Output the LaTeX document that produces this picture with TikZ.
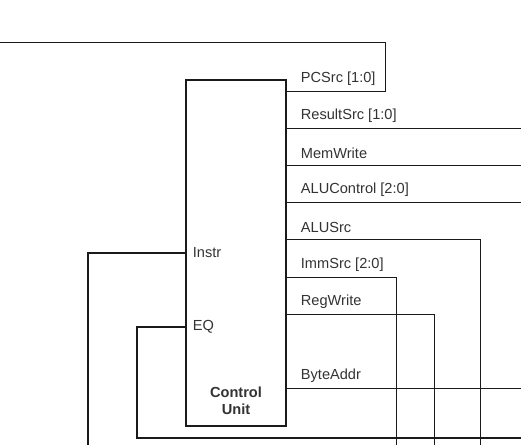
\documentclass[tikz,border=0pt]{standalone}
\usepackage{fontspec}
\setmainfont{Liberation Sans}
\definecolor{txt}{HTML}{333333}
\definecolor{ln}{HTML}{1A1A1A}
\begin{document}
\begin{tikzpicture}[x=1pt,y=-1pt,
  thinline/.style={draw=ln,line width=1pt},
  thickline/.style={draw=ln,line width=2pt},
  sig/.style={anchor=west,inner sep=0pt,text=txt,font=\fontsize{14.6}{17}\selectfont},
  unitbox/.style={draw=ln,line width=2pt,minimum width=100pt,minimum height=345.7pt,inner sep=0pt,fill=white}]
\useasboundingbox (0,0) rectangle (521,445);
\node[unitbox] (cu) at (236,252.85) {};
\node[inner sep=0pt,align=center,text=txt,font=\fontsize{14.6}{17.3}\selectfont\bfseries] (cut) at (236,400.5) {Control\\Unit};
% level coordinates
\coordinate (yPC) at (0,91.7);
\coordinate (yRS) at (0,128.7);
\coordinate (yMW) at (0,165.3);
\coordinate (yAC) at (0,202.7);
\coordinate (yAS) at (0,239.7);
\coordinate (yIS) at (0,277);
\coordinate (yRW) at (0,314);
\coordinate (yBA) at (0,388.7);
\coordinate (yIN) at (0,252.7);
\coordinate (yEQ) at (0,327);
% free ends
\coordinate (pcTop) at (385,42);
\coordinate (pcEnd) at (0,42);
\coordinate (rsEnd) at (521,128.7);
\coordinate (mwEnd) at (521,165.3);
\coordinate (acEnd) at (521,202.7);
\coordinate (asCorner) at (480,239.7);
\coordinate (asEnd) at (480,445);
\coordinate (isCorner) at (396.7,277);
\coordinate (isEnd) at (396.7,445);
\coordinate (rwCorner) at (434,314);
\coordinate (rwEnd) at (434,445);
\coordinate (baEnd) at (521,388.7);
\coordinate (inCorner) at (87.5,252.7);
\coordinate (inEnd) at (87.5,445);
\coordinate (eqCorner) at (136.7,327);
\coordinate (eqBottom) at (136.7,437.7);
\coordinate (eqEnd) at (521,437.7);
% outputs
\draw[thinline] (cu.east |- yPC) -| (pcTop) -- (pcEnd);
\draw[thinline] (cu.east |- yRS) -- (rsEnd);
\draw[thinline] (cu.east |- yMW) -- (mwEnd);
\draw[thinline] (cu.east |- yAC) -- (acEnd);
\draw[thinline] (cu.east |- yAS) -- (asCorner) -- (asEnd);
\draw[thinline] (cu.east |- yIS) -- (isCorner) -- (isEnd);
\draw[thinline] (cu.east |- yRW) -- (rwCorner) -- (rwEnd);
\draw[thinline] (cu.east |- yBA) -- (baEnd);
% inputs
\draw[thickline] (cu.west |- yIN) -- (inCorner) -- (inEnd);
\draw[thickline] (cu.west |- yEQ) -- (eqCorner) -- (eqBottom) -- (eqEnd);
% labels
\node[sig] (lPC) at (300.7,79.2) {PCSrc [1:0]};
\node[sig] (lRS) at (300.7,116.2) {ResultSrc [1:0]};
\node[sig] (lMW) at (300.7,152.8) {MemWrite};
\node[sig] (lAC) at (300.7,190.2) {ALUControl [2:0]};
\node[sig] (lAS) at (300.7,227.2) {ALUSrc};
\node[sig] (lIS) at (300.7,264.5) {ImmSrc [2:0]};
\node[sig] (lRW) at (300.7,301.5) {RegWrite};
\node[sig] (lBA) at (300.7,376.2) {ByteAddr};
\node[sig] (lIN) at (192.7,252.7) {Instr};
\node[sig] (lEQ) at (192.7,327) {EQ};
\end{tikzpicture}
\end{document}
